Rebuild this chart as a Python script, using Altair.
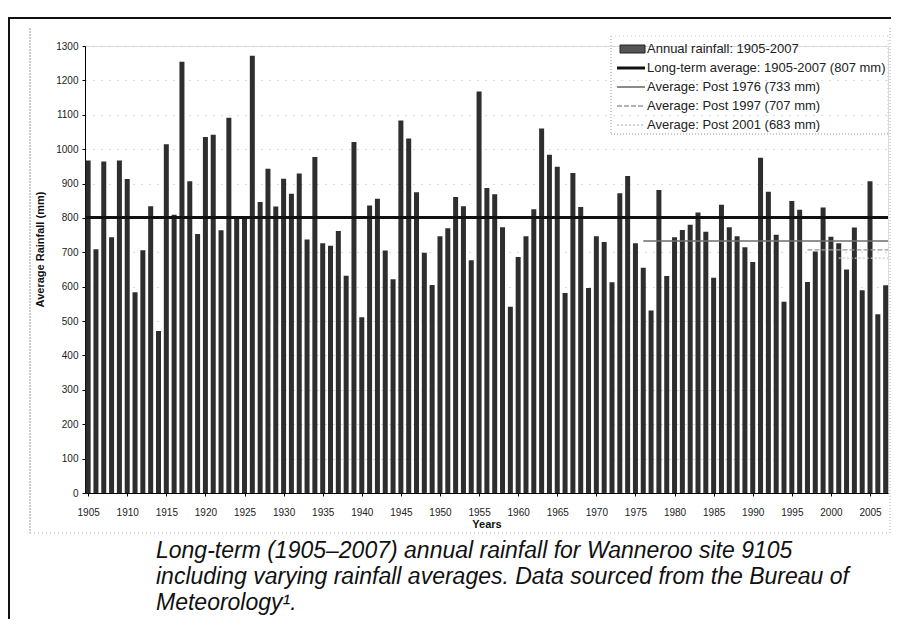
import altair as alt
import pandas as pd

# ---------------- data ----------------
years = list(range(1905, 2008))
rainfall = [
    967, 709, 964, 744, 967, 913, 584, 706, 834, 471,      # 1905-1914
    1014, 809, 1254, 907, 753, 1035, 1042, 764, 1091, 800,  # 1915-1924
    798, 1272, 846, 943, 833, 914, 870, 929, 737, 977,      # 1925-1934
    726, 719, 762, 632, 1021, 511, 836, 856, 705, 622,      # 1935-1944
    1083, 1031, 875, 699, 605, 747, 770, 861, 834, 677,     # 1945-1954
    1168, 887, 869, 773, 542, 686, 747, 825, 1060, 984,     # 1955-1964
    949, 582, 931, 832, 596, 747, 730, 613, 872, 922,       # 1965-1974
    726, 655, 531, 881, 631, 744, 765, 780, 816, 760,       # 1975-1984
    626, 838, 773, 747, 715, 672, 975, 876, 751, 556,       # 1985-1994
    849, 824, 614, 702, 830, 745, 726, 650, 772, 590,       # 1995-2004
    907, 520, 604,                                          # 2005-2007
]
avg_names = ["Long-term", "Post 1976", "Post 1997", "Post 2001"]
avg_values = [801, 733, 707, 683]
avg_start = [1905, 1976, 1997, 2001]
legend_labels = [
    "Annual rainfall: 1905-2007",
    "Long-term average: 1905-2007 (807 mm)",
    "Average: Post 1976 (733 mm)",
    "Average: Post 1997 (707 mm)",
    "Average: Post 2001 (683 mm)",
]
x_ticks = list(range(1905, 2006, 5))
y_ticks = list(range(0, 1301, 100))
caption = [
    "Long-term (1905\u20132007) annual rainfall for Wanneroo site 9105",
    "including varying rainfall averages. Data sourced from the Bureau of",
    "Meteorology\u00b9.",
]

# ---------------- layout ----------------
W, H = 803, 447
FONT = "Liberation Sans"

bars_df = pd.DataFrame({"year": years, "rain": rainfall})
avg_df = pd.DataFrame({"name": avg_names, "value": avg_values, "start": avg_start})
leg_df = pd.DataFrame({"label": legend_labels, "i": list(range(len(legend_labels)))})

xscale = alt.Scale(domain=[1904.6, 2007.3], nice=False, zero=False)
yscale = alt.Scale(domain=[0, 1300], nice=False)

xaxis = alt.Axis(values=x_ticks, format="d", title="Years",
                 labelFont=FONT, labelFontSize=10, labelColor="#222",
                 titleFont=FONT, titleFontSize=11, titleFontWeight="bold",
                 titleColor="#111", titleY=31, titleBaseline="middle",
                 tickSize=3, tickColor="#000", domainColor="#000",
                 labelPadding=11, grid=False, labelOverlap=False)
yaxis = alt.Axis(values=y_ticks, format="d", title="Average Rainfall (mm)",
                 labelFont=FONT, labelFontSize=10, labelColor="#222",
                 titleFont=FONT, titleFontSize=11, titleFontWeight="bold",
                 titleColor="#111", titleX=-45, titleY=203,
                 titleAlign="center", titleBaseline="middle", titleAngle=-90,
                 tickSize=3, tickColor="#000", domainColor="#000",
                 labelPadding=4, grid=True, gridColor="#b8b8b8",
                 gridDash=[1, 7], gridWidth=1, labelOverlap=False)

bars = alt.Chart(bars_df).transform_calculate(
    x0="datum.year - 0.32", x1="datum.year + 0.32"
).mark_bar(color="#2e2e2e").encode(
    x=alt.X("x0:Q", scale=xscale, axis=xaxis),
    x2="x1:Q",
    y=alt.Y("rain:Q", scale=yscale, axis=yaxis),
    y2=alt.datum(0),
)

def avg_layer(name, color, width, dash):
    base = alt.Chart(avg_df).transform_filter(alt.datum.name == name)
    kw = dict(color=color, strokeWidth=width)
    if dash:
        kw["strokeDash"] = dash
    if name == "Long-term":
        return base.mark_rule(**kw).encode(y=alt.Y("value:Q", scale=yscale, axis=yaxis))
    return base.mark_rule(**kw).encode(
        x=alt.X("start:Q", scale=xscale, axis=xaxis), x2=alt.value(W),
        y=alt.Y("value:Q", scale=yscale, axis=yaxis))

lines = (avg_layer("Long-term", "#111", 3, None)
         + avg_layer("Post 1976", "#6e6e6e", 1.6, None)
         + avg_layer("Post 1997", "#9a9a9a", 1.4, [5, 2])
         + avg_layer("Post 2001", "#c6c6c6", 1.4, [2, 2]))

# ---------------- legend ----------------
ROW0, DROW = 3, 19
leg_text = alt.Chart(leg_df).transform_calculate(
    py=f"{ROW0} + {DROW} * datum.i"
).mark_text(align="left", baseline="middle", font=FONT, fontSize=13,
            color="#222").encode(
    x=alt.value(562), y=alt.Y("py:Q", scale=None), text="label:N")

leg_rect = alt.Chart(leg_df).transform_filter(alt.datum.i == 0).mark_rect(
    color="#555", stroke="#222", strokeWidth=1).encode(
    x=alt.value(535), x2=alt.value(560),
    y=alt.value(ROW0 - 4), y2=alt.value(ROW0 + 4))

def leg_line(i, color, width, dash):
    kw = dict(color=color, strokeWidth=width)
    if dash:
        kw["strokeDash"] = dash
    return alt.Chart(leg_df).transform_filter(alt.datum.i == i).mark_rule(**kw).encode(
        x=alt.value(532), x2=alt.value(560), y=alt.value(ROW0 + DROW * i))

leg_lines = (leg_line(1, "#111", 3, None) + leg_line(2, "#6e6e6e", 1.6, None)
             + leg_line(3, "#9a9a9a", 1.4, [5, 2]) + leg_line(4, "#c6c6c6", 1.4, [2, 2]))

def frame_rule(x, x2, y, y2, color, width, dash=None):
    kw = dict(color=color, strokeWidth=width)
    if dash:
        kw["strokeDash"] = dash
    return alt.Chart(leg_df).transform_filter(alt.datum.i == 0).mark_rule(**kw).encode(
        x=alt.value(x), x2=alt.value(x2), y=alt.value(y), y2=alt.value(y2))

leg_box = (frame_rule(526, 526, -10, 88, "#999", 1, [1, 2])
           + frame_rule(526, 803, 88, 88, "#999", 1, [1, 2])
           + frame_rule(526, 803, -10, -10, "#ccc", 1, [1, 3])
           + frame_rule(803, 803, -10, 88, "#ccc", 1, [1, 3]))

# ---------------- page frame ----------------
frame = (frame_rule(-77, 806, -28, -28, "#111", 2)
         + frame_rule(-76, -76, -28, 573, "#111", 2)
         + frame_rule(-55, -55, -18, 487, "#999", 1, [2, 1])
         + frame_rule(-55, 805, 487, 487, "#aaa", 1, [1, 3])
         + frame_rule(805, 805, -18, 487, "#aaa", 1, [1, 2]))

cap = alt.Chart(leg_df).transform_filter(alt.datum.i == 0).mark_text(
    align="left", baseline="middle", font=FONT, fontSize=23, fontStyle="italic",
    color="#111", lineHeight=26, text=caption).encode(
    x=alt.value(71), y=alt.value(505))

chart = alt.layer(frame, bars, lines, leg_box, leg_rect, leg_lines, leg_text, cap).properties(
    width=W, height=H,
    autosize=alt.AutoSizeParams(type="none"),
    padding={"left": 77, "top": 38, "right": 3, "bottom": 126},
).configure_view(stroke=None).configure(background="white")

chart.save("out.html", embed_options={"renderer": "svg", "actions": False})
